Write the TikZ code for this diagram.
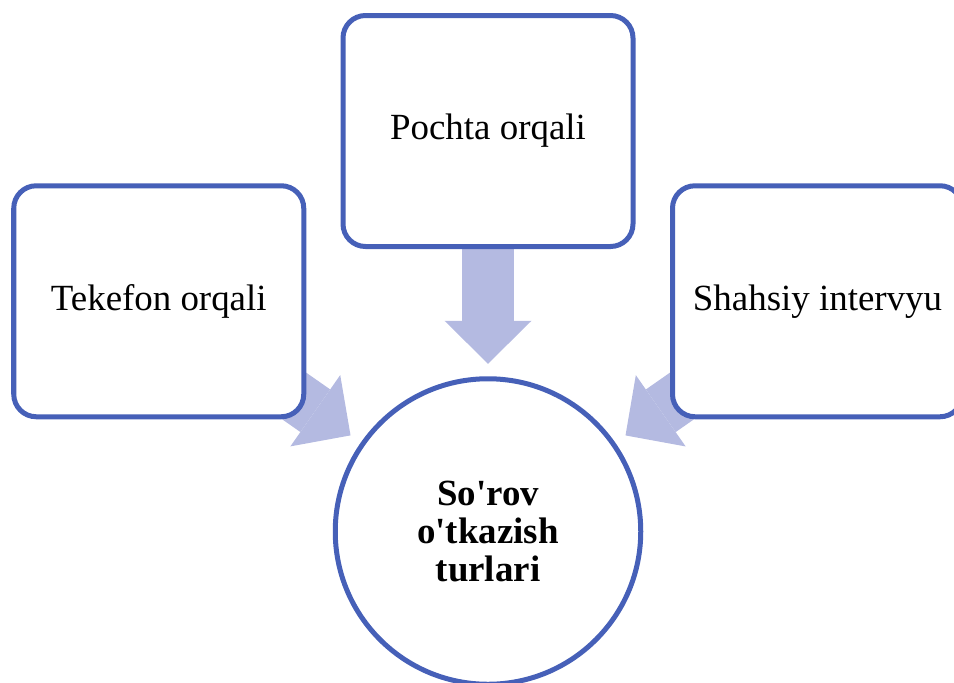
\documentclass[tikz,border=0pt]{standalone}
\usepackage{fontspec}
\newfontfamily\diagfont{Liberation Serif}
\usepackage{tikz}
\usetikzlibrary{arrows.meta,backgrounds}
\definecolor{smartblue}{RGB}{70,96,184}
\definecolor{flowfill}{RGB}{180,186,225}

\begin{document}
\begin{tikzpicture}[
  every node/.style={font=\diagfont\fontsize{21}{21.5}\selectfont},
  box/.style={draw=smartblue, line width=0.1cm, rounded corners=0.45cm, fill=white, minimum width=5.8cm, minimum height=4.62cm, inner sep=0pt, align=center},
  hub/.style={draw=smartblue, line width=0.1cm, circle, fill=white, minimum size=6.11cm, inner sep=0pt, align=center},
  flow/.style={line width=1.04cm, draw=flowfill, -{Triangle[length=0.86cm, width=1.74cm, line width=0pt]}, shorten >=0.25cm}
]
  \useasboundingbox (0,0) rectangle (19.08,-13.64);
  \node[box] (pochta)  at (9.76,-2.62)   {Pochta orqali};
  \node[box] (tekefon) at (3.175,-6.025) {Tekefon orqali};
  \node[box] (shahsiy) at (16.35,-6.025) {Shahsiy intervyu};
  \node[hub] (sorov)   at (9.76,-10.63)  {\bfseries So'rov\\\bfseries o'tkazish\\\bfseries turlari};

  % block arrows go behind the boxes
  \begin{scope}[on background layer]
    \draw[flow] (pochta.center) -- (sorov);
    \draw[flow] (tekefon.center) -- (sorov);
    \draw[flow] (shahsiy.center) -- (sorov);
  \end{scope}
\end{tikzpicture}
\end{document}
